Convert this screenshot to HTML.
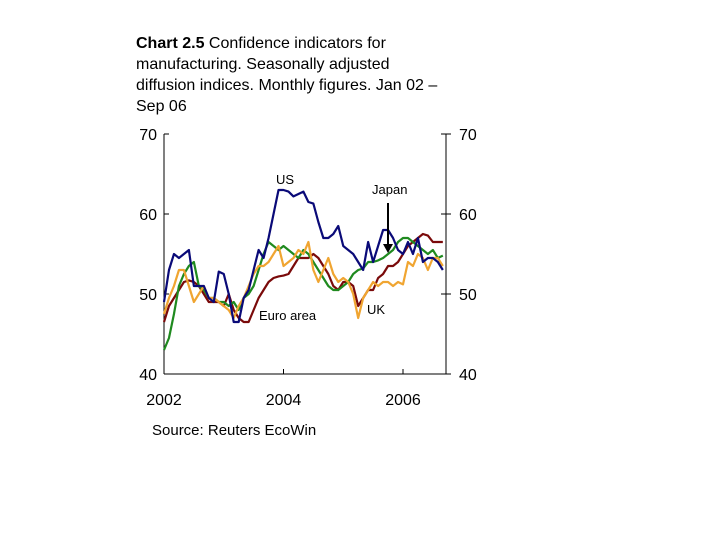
<!DOCTYPE html>
<html><head><meta charset="utf-8"><style>
body{margin:0;background:#fff;width:720px;height:540px;overflow:hidden;font-family:"Liberation Sans",Arial,sans-serif}
#title{position:absolute;left:136px;top:33px;white-space:nowrap;font-size:16px;line-height:21px;color:#000}
#src{position:absolute;left:152px;top:422px;font-size:15px;color:#000}
svg{position:absolute;left:0;top:0}
</style></head><body>
<div id="title"><b>Chart 2.5</b> Confidence indicators for<br>manufacturing. Seasonally adjusted<br>diffusion indices. Monthly figures. Jan 02 –<br>Sep 06</div>
<div id="src">Source: Reuters EcoWin</div>
<svg id="chart" width="720" height="540"></svg>
<script>
const yTicks=[40,50,60,70];
const xTickYears=[2002,2004,2006];
const usVals=[49,53,55,54.5,55,55.5,51,51,51,49.5,49,52.8,
52.5,50,46.5,46.5,49.5,50.5,53,55.5,54.5,57,60,63,
63,62.8,62.2,62.5,62.8,61.5,61.3,59,57,57,57.5,58.5,
56,55.5,55,54,53,56.5,54,56,58,58,57,55.5,
55,56.5,55,57,54,54.5,54.5,54,53];
const japanVals=[43,44.5,47.5,51,52.5,53.5,54,51,50.5,49.5,49.5,49,
49,48.5,49,48,49.5,50,51,53,55,56.5,56,55.5,
56,55.5,55,54.5,55.5,55,54,53,52,51,50.5,50.5,
51,51.5,52.5,53,53.2,54,54,54.2,54.5,55,55.5,56.5,
57,57,56.5,56,55.5,55,55.5,54.5,54.8];
const euroVals=[46.5,48.5,49.5,50.5,51.5,51.7,51.5,51,50,49,49,49,
48.5,50,48,47,46.5,46.5,48,49.5,50.5,51.5,52,52.2,
52.3,52.5,53.5,54.5,54.5,54.5,55,54.5,53.5,52.5,51,50.5,
51.5,51.5,51,48.5,49.5,50.5,50.5,52,52.5,53.5,53.5,54,
55,56,56.5,57,57.5,57.3,56.5,56.5,56.5];
const ukVals=[47.5,49.5,51,53,53,51,49,50,51,49.5,49.5,49,
48.5,48,47,48.5,49.5,51,52.5,53.5,53.5,54,55,56,
53.5,54,54.5,55.5,55,56.5,53,51.5,53,54.5,52.5,51.5,
52,51.5,50,47,49.5,50.5,51.5,51,51.5,51.5,51,51.5,
51.2,54,53.5,55,54.5,53,54.5,54.5,53.5];

const svg=document.getElementById('chart');
const NS='http://www.w3.org/2000/svg';
const L=164,R=446,T=134,B=374;
const yS=v=>B-(v-40)/30*(B-T);
const xS=m=>L+m*(59.75/12);
function mk(tag,attrs,parent){const e=document.createElementNS(NS,tag);for(const k in attrs)e.setAttribute(k,attrs[k]);(parent||svg).appendChild(e);return e;}

const ax=mk('g',{});


let e=mk('line',{x1:L,y1:T,x2:L,y2:B,stroke:'#000','stroke-width':1},ax);


e=mk('line',{x1:R,y1:T,x2:R,y2:B,stroke:'#000','stroke-width':1},ax);


e=mk('line',{x1:L,y1:B,x2:R,y2:B,stroke:'#000','stroke-width':1},ax);


yTicks.forEach(v=>{
  const y=yS(v);
  mk('line',{x1:L,y1:y,x2:L+5,y2:y,stroke:'#000'},ax);
  mk('line',{x1:R-5,y1:y,x2:R+5,y2:y,stroke:'#000'},ax);
  let t=mk('text',{x:L-7,y:y+6,'text-anchor':'end','font-size':16},ax);t.textContent=v;
  
  
  t=mk('text',{x:R+13,y:y+6,'text-anchor':'start','font-size':16},ax);t.textContent=v;
  
  
});
xTickYears.forEach(yr=>{
  const x=xS((yr-2002)*12);
  mk('line',{x1:x,y1:B,x2:x,y2:B-5,stroke:'#000'},ax);
  const t=mk('text',{x:x,y:B+31,'text-anchor':'middle','font-size':16},ax);t.textContent=yr;
  
  
});

function series(vals,color,name){
  const p=mk('polyline',{points:vals.map((v,i)=>xS(i)+','+yS(v)).join(' '),fill:'none',stroke:color,'stroke-width':2.2,'stroke-linejoin':'round'});
  
  
}
series(euroVals,'#7a0a0a','euro-area-line');
series(japanVals,'#1f8a1f','japan-line');
series(ukVals,'#f0a531','uk-line');
series(usVals,'#0a0a78','us-line');

function lab(txt,x,y,name){const t=mk('text',{x:x,y:y,'font-size':13});t.textContent=txt;

}
lab('US',276,184,'us-label');
lab('Japan',372,194,'japan-label');
lab('Euro area',259,320,'euro-area-label');
lab('UK',367,314,'uk-label');
const ar=mk('g',{});


mk('line',{x1:388,y1:203,x2:388,y2:248,stroke:'#000','stroke-width':2},ar);
mk('polygon',{points:'383,244 393,244 388,253',fill:'#000'},ar);
</script>
</body></html>
